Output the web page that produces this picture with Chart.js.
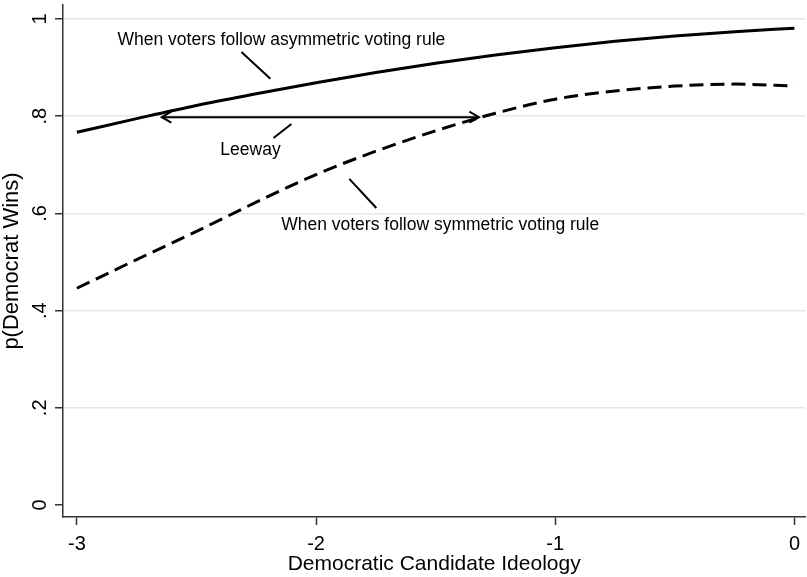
<!DOCTYPE html>
<html>
<head>
<meta charset="utf-8">
<script src="https://cdn.jsdelivr.net/npm/chart.js@4.4.0/dist/chart.umd.min.js"></script>
<style>
  html, body { margin: 0; padding: 0; background: #fff; }
  #wrap { width: 807px; height: 577px; }
</style>
</head>
<body>
<div id="wrap"><canvas id="leewayChart"></canvas></div>
<script>
// valores
var ideology = [-3, -2.75, -2.5, -2.25, -2, -1.75, -1.5, -1.25, -1, -0.75, -0.5, -0.25, 0];
var asymmetricWin = [0.767, 0.795, 0.822, 0.846, 0.869, 0.890, 0.909, 0.926, 0.941, 0.954, 0.965, 0.974, 0.981];
var symmetricWin = [0.446, 0.505, 0.563, 0.623, 0.680, 0.728, 0.770, 0.806, 0.835, 0.852, 0.862, 0.866, 0.862];
var xTicks = [-3, -2, -1, 0];
var yTicks = [0, 0.2, 0.4, 0.6, 0.8, 1];
var yTickLabels = ['0', '.2', '.4', '.6', '.8', '1'];

// anotações em coordenadas dos dados
var notes = [
    { text: 'When voters follow asymmetric voting rule', x: -2.145, y: 0.957 },
    { text: 'Leeway', x: -2.274, y: 0.730 },
    { text: 'When voters follow symmetric voting rule', x: -1.481, y: 0.576 }
];
var pointers = [
    [-2.312, 0.932, -2.191, 0.877],
    [-2.103, 0.784, -2.178, 0.755],
    [-1.861, 0.671, -1.748, 0.611]
];
var leewayArrow = [-2.645, 0.798, -1.319, 0.798];

var fontFamily = "'Liberation Sans', Arial, Helvetica, sans-serif";
Chart.defaults.font.family = fontFamily;

function points(values) {
    return ideology.map(function(x, i) { return { x: x, y: values[i] }; });
}

// rótulos do eixo y girados, como no Stata
var yLabelPlugin = {
    id: 'yLabels',
    afterDraw: function(chart) {
        var ctx = chart.ctx;
        var ys = chart.scales.y;
        ctx.save();
        ctx.fillStyle = '#000';
        ctx.font = '20px ' + fontFamily;
        ctx.textAlign = 'center';
        ctx.textBaseline = 'middle';
        yTicks.forEach(function(v, i) {
            ctx.save();
            ctx.translate(ys.right - 23, ys.getPixelForValue(v));
            ctx.rotate(-Math.PI / 2);
            ctx.fillText(yTickLabels[i], 0, 0);
            ctx.restore();
        });
        ctx.restore();
    }
};

var annotationPlugin = {
    id: 'notes',
    afterDatasetsDraw: function(chart) {
        var ctx = chart.ctx;
        var xs = chart.scales.x, ys = chart.scales.y;
        function px(v) { return xs.getPixelForValue(v); }
        function py(v) { return ys.getPixelForValue(v); }
        ctx.save();
        ctx.strokeStyle = '#000';
        ctx.fillStyle = '#000';
        ctx.lineWidth = 2;
        ctx.lineCap = 'butt';

        pointers.forEach(function(p) {
            ctx.beginPath();
            ctx.moveTo(px(p[0]), py(p[1]));
            ctx.lineTo(px(p[2]), py(p[3]));
            ctx.stroke();
        });

        // seta dupla
        var x1 = px(leewayArrow[0]), y1 = py(leewayArrow[1]);
        var x2 = px(leewayArrow[2]), y2 = py(leewayArrow[3]);
        ctx.beginPath();
        ctx.moveTo(x1, y1);
        ctx.lineTo(x2, y2);
        ctx.stroke();
        var ang = Math.atan2(y2 - y1, x2 - x1);
        var headLen = 11, spread = Math.PI / 6;
        function head(x, y, a) {
            ctx.beginPath();
            ctx.moveTo(x + headLen * Math.cos(a - spread), y + headLen * Math.sin(a - spread));
            ctx.lineTo(x, y);
            ctx.lineTo(x + headLen * Math.cos(a + spread), y + headLen * Math.sin(a + spread));
            ctx.stroke();
        }
        head(x1, y1, ang);
        head(x2, y2, ang + Math.PI);

        ctx.font = '17.5px ' + fontFamily;
        ctx.textAlign = 'center';
        ctx.textBaseline = 'middle';
        notes.forEach(function(n) {
            ctx.fillText(n.text, px(n.x), py(n.y));
        });
        ctx.restore();
    }
};

document.addEventListener('DOMContentLoaded', function() {
    var ctx = document.getElementById('leewayChart').getContext('2d');
    var leewayChart = new Chart(ctx, {
        type: 'line',
        data: {
            datasets: [{
                label: 'Asymmetric',
                data: points(asymmetricWin),
                borderColor: '#000',
                borderWidth: 3,
                pointRadius: 0,
                cubicInterpolationMode: 'monotone',
                fill: false
            }, {
                label: 'Symmetric',
                data: points(symmetricWin),
                borderColor: '#000',
                borderWidth: 3,
                borderDash: [14, 7],
                pointRadius: 0,
                cubicInterpolationMode: 'monotone',
                fill: false
            }]
        },
        options: {
            responsive: true,
            maintainAspectRatio: false,
            animation: false,
            layout: { padding: { top: 5, right: 0, left: 0, bottom: 0 } },
            plugins: {
                legend: { display: false },
                tooltip: { enabled: false }
            },
            scales: {
                x: {
                    type: 'linear',
                    min: -3.058,
                    max: 0.0455,
                    afterBuildTicks: function(s) { s.ticks = xTicks.map(function(v) { return { value: v }; }); },
                    afterFit: function(s) { s.height = 60; },
                    ticks: {
                        color: '#000',
                        padding: 7,
                        maxRotation: 0,
                        font: { size: 20 },
                        callback: function(v) { return String(v); }
                    },
                    grid: {
                        drawOnChartArea: false,
                        tickLength: 8,
                        tickColor: '#333',
                        tickWidth: 1.5
                    },
                    border: { color: '#333', width: 1.5 },
                    title: {
                        display: true,
                        text: 'Democratic Candidate Ideology',
                        color: '#000',
                        font: { size: 21 },
                        padding: { top: 0, bottom: 0 }
                    }
                },
                y: {
                    type: 'linear',
                    min: -0.0247,
                    max: 1.0288,
                    afterBuildTicks: function(s) { s.ticks = yTicks.map(function(v) { return { value: v }; }); },
                    afterFit: function(s) { s.width = 63; },
                    ticks: { display: false },
                    grid: {
                        color: function(c) { return c.tick && c.tick.value === 0 ? 'rgba(0,0,0,0)' : '#e6e6e6'; },
                        lineWidth: 1.5,
                        tickLength: 8,
                        tickColor: '#333',
                        tickWidth: 1.5
                    },
                    border: { color: '#333', width: 1.5 },
                    title: {
                        display: true,
                        text: 'p(Democrat Wins)',
                        color: '#000',
                        font: { size: 22 },
                        padding: { top: -1, bottom: 0 }
                    }
                }
            }
        },
        plugins: [annotationPlugin, yLabelPlugin]
    });
});
</script>
</body>
</html>
